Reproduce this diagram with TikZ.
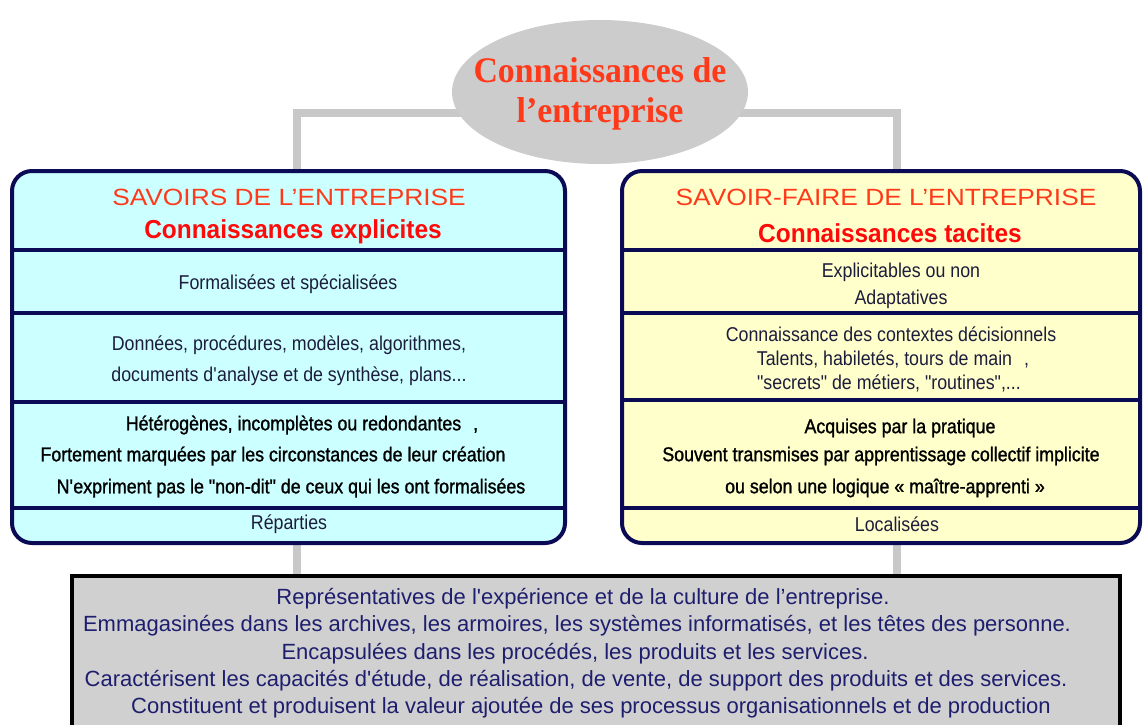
\documentclass[tikz,border=0pt]{standalone}
\usepackage{fontspec}
\setmainfont{Liberation Sans}
\newfontfamily\narrowfont[FakeStretch=0.89]{Liberation Sans}
\newfontfamily\heavyfont[FakeStretch=0.89,FakeBold=1.2]{Liberation Sans}
\newfontfamily\widefont[FakeStretch=1.12]{Liberation Sans}
\newfontfamily\titlefont[FakeStretch=0.94]{Liberation Sans}
\newfontfamily\serifbold[FakeStretch=0.94]{Liberation Serif}
\usetikzlibrary{shapes.geometric,backgrounds}
\newcommand{\sq}{\textquotesingle}
\definecolor{navy}{HTML}{0A0A55}
\definecolor{conngray}{HTML}{C8C8C8}
\definecolor{ellgray}{HTML}{CCCCCC}
\definecolor{cyanfill}{HTML}{CCFFFF}
\definecolor{yellowfill}{HTML}{FFFFCC}
\definecolor{botfill}{HTML}{D0D0D0}
\definecolor{titlered}{HTML}{FF3A1A}
\definecolor{boldred}{HTML}{FF0A0A}
\definecolor{txtdark}{HTML}{1C1C3C}
\definecolor{txtnavy}{HTML}{1E1E6E}
\tikzset{
  conn/.style={draw=conngray, line width=8pt},
  panel/.style={draw=navy, line width=4pt, rounded corners=20pt, inner sep=0pt},
  divider/.style={draw=navy, line width=4pt},
  bottombox/.style={draw=black, line width=4pt, fill=botfill, inner sep=0pt},
  topell/.style={ellipse, fill=ellgray, inner sep=0pt, minimum width=296pt, minimum height=144pt},
  elltxt/.style={font=\serifbold\bfseries\fontsize{36}{40}\selectfont, text=titlered, inner sep=0pt, anchor=base},
  ttl/.style={font=\widefont\fontsize{23.5}{26}\selectfont, text=titlered, inner sep=0pt},
  bttl/.style={font=\titlefont\bfseries\fontsize{26}{30}\selectfont, text=boldred, inner sep=0pt},
  txt/.style={font=\narrowfont\fontsize{20}{24}\selectfont, text=txtdark, inner sep=0pt},
  btxt/.style={font=\heavyfont\fontsize{20}{24}\selectfont, text=black, inner sep=0pt},
  bottxt/.style={font=\fontsize{22}{26}\selectfont, text=txtnavy, inner sep=0pt}
}
\begin{document}
\begin{tikzpicture}[x=1pt,y=-1pt]
\useasboundingbox (0,0) rectangle (1144,724);
% panels
\node[panel, fill=cyanfill, minimum width=553pt, minimum height=372pt] (lbox) at (288.5,357) {};
\node[panel, fill=yellowfill, minimum width=518pt, minimum height=372pt] (rbox) at (881,357) {};
\node[bottombox, minimum width=1048pt, minimum height=170pt] (bbox) at (596,661) {};
% dividers
\foreach \yy in {250,313,402,508} \draw[divider] (lbox.west |- 0,\yy) -- (lbox.east |- 0,\yy);
\foreach \yy in {250,313,400,508} \draw[divider] (rbox.west |- 0,\yy) -- (rbox.east |- 0,\yy);
% top ellipse
\node[topell] (top) at (600,92) {};
\coordinate (lj) at (297,113);
\coordinate (rj) at (897,113);
\begin{pgfonlayer}{background}
\draw[conn] (top.center |- lj) -- (lj) -- (lj |- lbox.north);
\draw[conn] (top.center |- rj) -- (rj) -- (rj |- rbox.north);
\draw[conn] (lj |- lbox.south) -- (lj |- bbox.north);
\draw[conn] (rj |- rbox.south) -- (rj |- bbox.north);
\end{pgfonlayer}
\node[elltxt] (e1) at (600,82) {Connaissances de};
\node[elltxt] (e2) at (600,122) {l’entreprise};
% left panel text
\node[ttl] (l0) at (289,197) {SAVOIRS DE L’ENTREPRISE};
\node[bttl] (l0b) at (293,232) {Connaissances explicites};
\node[txt] (l1) at (288,284) {Formalisées et spécialisées};
\node[txt] (l2) at (289,345) {Données, procédures, modèles, algorithmes,};
\node[txt] (l3) at (289,376) {documents d\sq analyse et de synthèse, plans...};
\node[btxt] (l4) at (302,425) {Hétérogènes, incomplètes ou redondantes\hspace{12pt},};
\node[btxt] (l5) at (273,456) {Fortement marquées par les circonstances de leur création};
\node[btxt] (l6) at (291,488) {N\sq expriment pas le "non-dit" de ceux qui les ont formalisées};
\node[txt] (l7) at (289,524) {Réparties};
% right panel text
\node[ttl] (r0) at (886,197) {SAVOIR-FAIRE DE L’ENTREPRISE};
\node[bttl] (r0b) at (890,233) {Connaissances tacites};
\node[txt] (r1) at (901,272) {Explicitables ou non};
\node[txt] (r2) at (901,299) {Adaptatives};
\node[txt] (r3) at (891,334) {Connaissance des contextes décisionnels};
\node[txt] (r4) at (893,359) {Talents, habiletés, tours de main\hspace{12pt},};
\node[txt] (r5) at (889,383) {"secrets" de métiers, "routines",...};
\node[btxt] (r6) at (900,428) {Acquises par la pratique};
\node[btxt] (r7) at (881,456) {Souvent transmises par apprentissage collectif implicite};
\node[btxt] (r8) at (885,488) {ou selon une logique « maître-apprenti »};
\node[txt] (r9) at (897,524) {Localisées};
% bottom text
\node[bottxt] (b1) at (583,599) {Représentatives de l\sq expérience et de la culture de l’entreprise.};
\node[bottxt] (b2) at (577,626) {Emmagasinées dans les archives, les armoires, les systèmes informatisés, et les têtes des personne.};
\node[bottxt] (b3) at (575,654) {Encapsulées dans les procédés, les produits et les services.};
\node[bottxt] (b4) at (576,681) {Caractérisent les capacités d\sq étude, de réalisation, de vente, de support des produits et des services.};
\node[bottxt] (b5) at (591,708) {Constituent et produisent la valeur ajoutée de ses processus organisationnels et de production};
\end{tikzpicture}
\end{document}
